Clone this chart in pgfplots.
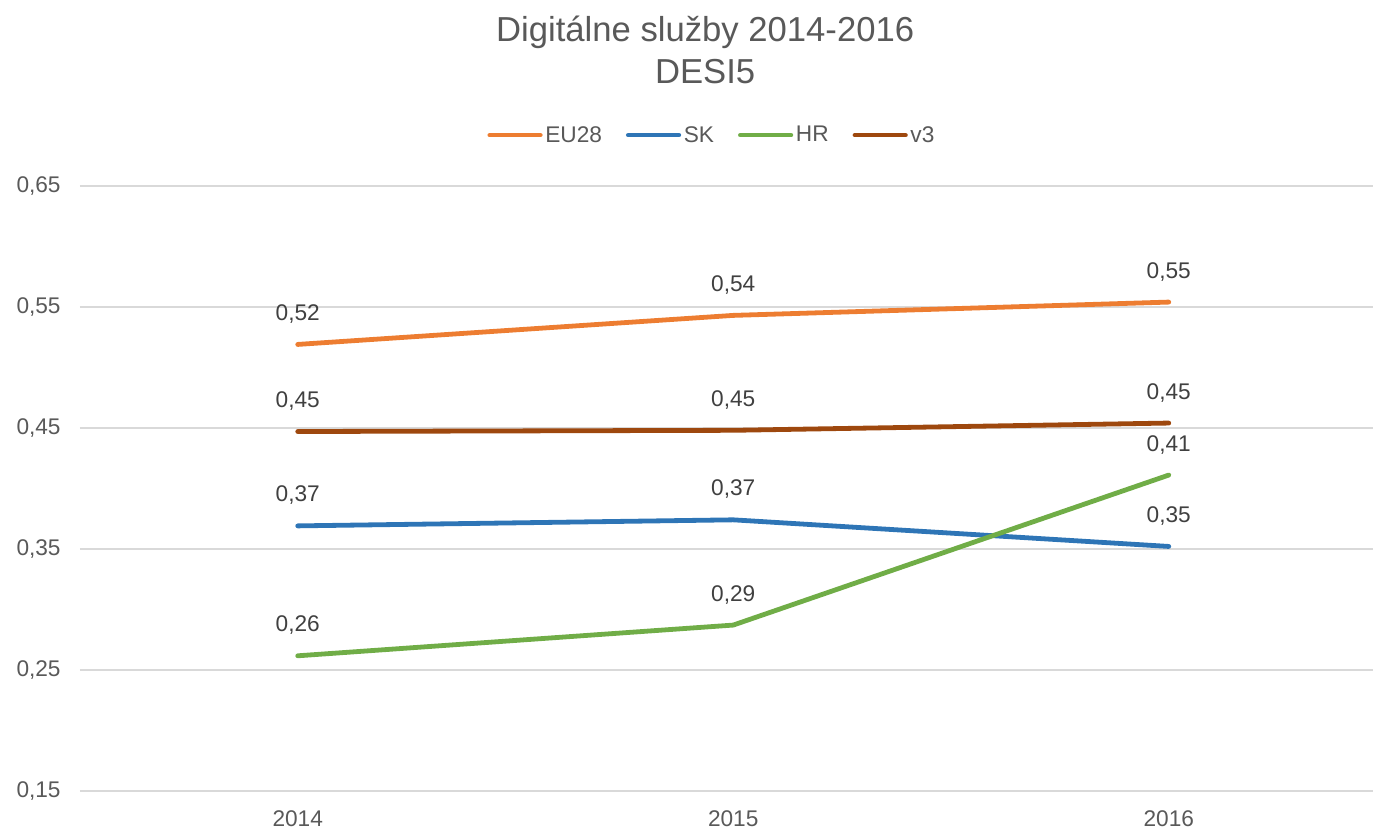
\documentclass[border=0pt]{standalone}
\usepackage{pgfplots}
\pgfplotsset{compat=1.18}
\usepackage{fontspec}
\setmainfont{Liberation Sans}
\definecolor{eu}{RGB}{237,125,49}
\definecolor{sk}{RGB}{46,117,182}
\definecolor{hr}{RGB}{112,173,71}
\definecolor{vtri}{RGB}{158,72,14}
\definecolor{txtgray}{RGB}{89,89,89}
\definecolor{labgray}{RGB}{64,64,64}
\definecolor{gridgray}{RGB}{217,217,217}
\begin{document}
\begin{tikzpicture}
\useasboundingbox (-60pt,-30pt) rectangle (970pt,593.25pt);
\begin{axis}[scale only axis,width=970pt,height=453.75pt,
  xmin=-0.5,xmax=2.469,ymin=0.15,ymax=0.65,clip=false,
  xtick={0,1,2},xticklabels={2014,2015,2016},
  ytick={0.15,0.25,0.35,0.45,0.55,0.65},
  axis line style={draw=none},tick style={draw=none},
  ymajorgrids,grid style={gridgray,line width=1.5pt},
  /pgf/number format/assume math mode=true,
  /pgf/number format/.cd,use comma,fixed,fixed zerofill,precision=2,/pgfplots/.cd,
  ticklabel style={font=\fontsize{17}{20}\selectfont,text=txtgray},
  yticklabel style={xshift=-11pt},
  xticklabel style={yshift=-11pt},
  every axis plot/.append style={line width=3.6pt,line cap=round,no marks},
  nodes near coords,
  every node near coord/.append style={font=\fontsize{17}{20}\selectfont,text=labgray,anchor=south,inner sep=0pt,yshift=14pt},
  legend columns=4,
  legend style={draw=none,at={(0.489,1.084)},anchor=center,font=\fontsize{17}{20}\selectfont,text=txtgray,
    /tikz/every even column/.append style={column sep=16pt}},
  legend image code/.code={\draw[#1,line width=3.4pt,line cap=round] (0pt,0pt) -- (38pt,0pt);},
]
\addplot[eu] coordinates {(0,0.519) (1,0.543) (2,0.554)};
\addplot[sk] coordinates {(0,0.369) (1,0.374) (2,0.352)};
\addplot[hr] coordinates {(0,0.2616) (1,0.287) (2,0.411)};
\addplot[vtri] coordinates {(0,0.447) (1,0.448) (2,0.454)};
\legend{EU28,SK,HR,v3}
\end{axis}
\node[font=\fontsize{26}{31.5}\selectfont,text=txtgray,align=center] at (469pt,556pt) {Digitálne služby 2014-2016\\DESI5};
\end{tikzpicture}
\end{document}
